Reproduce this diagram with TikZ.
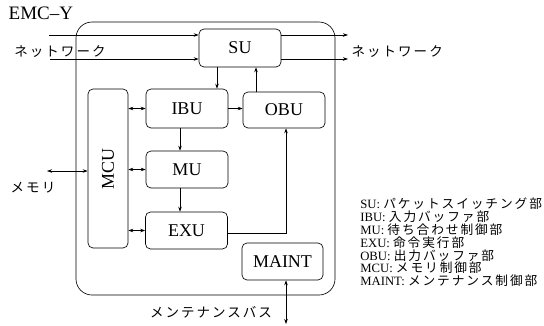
\documentclass[tikz,border=0pt]{standalone}
\usepackage{fontspec}
\setmainfont{Liberation Serif}
\newfontfamily\jp[LetterSpace=15]{Noto Sans CJK JP}
\usetikzlibrary{arrows.meta}

\tikzset{
  unit/.style={rectangle, draw, rounded corners=5pt, minimum width=82pt, minimum height=38pt, inner sep=0pt, font=\fontsize{18}{20}\selectfont},
  arrow/.style={-{Stealth[length=5pt, width=3.5pt]}},
  dblarrow/.style={{Stealth[length=5pt, width=3.5pt]}-{Stealth[length=5pt, width=3.5pt]}},
  jplabel/.style={font=\jp\fontsize{13.5}{15}\selectfont},
}

\begin{document}
\begin{tikzpicture}[x=1pt, y=-1pt, line width=0.65pt]
  \useasboundingbox (0,0) rectangle (544,325);

  % Rahmen EMC-Y
  \node[draw, rounded corners=16pt, minimum width=259pt, minimum height=273pt, inner sep=0pt] (emc) at (205.5,158.5) {};
  \node[anchor=west, font=\fontsize{19}{21}\selectfont] (title) at (5,13) {EMC--Y};

  % Einheiten
  \node[unit] (su)    at (240,48)    {SU};
  \node[unit, minimum height=39pt] (ibu) at (187,108.5) {IBU};
  \node[unit, minimum height=36pt] (obu) at (284,110)   {OBU};
  \node[unit, minimum height=37pt] (mu)  at (187,169.5) {MU};
  \node[unit, minimum height=37pt] (exu) at (186.5,230.5) {EXU};
  \node[unit, minimum height=37pt, minimum width=81pt] (maint) at (282.5,261.5) {MAINT};
  \node[unit, minimum width=40pt, minimum height=159pt] (mcu) at (108,168.5) {\rotatebox{90}{MCU}};

  % Endpunkte aussen
  \coordinate (netin1)  at (49,35);
  \coordinate (netin2)  at (50,59);
  \coordinate (netout1) at (348,35);
  \coordinate (netout2) at (348,59);
  \coordinate (mem)     at (47,171);
  \coordinate (bus)     at (286,324);

  % Netzwerk
  \draw[arrow] (netin1) -- (netin1 -| su.west);
  \draw[arrow] (netin2) -- (netin2 -| su.west);
  \draw[arrow] (su.east |- netout1) -- (netout1);
  \draw[arrow] (su.east |- netout2) -- (netout2);

  % Verbindungen
  \draw[arrow] ([xshift=-23pt]su.south) -- ([xshift=-23pt]su.south |- ibu.north);
  \draw[arrow] ([xshift=-28pt]obu.north) -- ([xshift=-28pt]obu.north |- su.south);
  \draw[arrow] (ibu.east) -- (ibu.east -| obu.west);
  \draw[arrow] ([xshift=-7pt]ibu.south) -- ([xshift=-7pt]ibu.south |- mu.north);
  \draw[arrow] ([xshift=-7pt]mu.south) -- ([xshift=-7pt]mu.south |- exu.north);
  \draw[arrow] ([yshift=-2.5pt]exu.east) -| ([xshift=2pt]obu.south);
  \draw[dblarrow] (mcu.east |- ibu.west) -- (ibu.west);
  \draw[dblarrow] (mcu.east |- mu.west)  -- (mu.west);
  \draw[dblarrow] (mcu.east |- exu.west) -- (exu.west);
  \draw[dblarrow] (mem) -- (mem -| mcu.west);
  \draw[dblarrow] ([xshift=3.5pt]maint.south) -- ([xshift=3.5pt]maint.south |- bus);

  % Beschriftungen
  \node[jplabel] (netinlabel) at (60,52) {ネットワーク};
  \node[jplabel, anchor=west] (netoutlabel) at (348,52) {ネットワーク};
  \node[jplabel] (memlabel) at (33,188) {メモリ};
  \node[jplabel] (buslabel) at (211,312) {メンテナンスバス};

  % Legende
  \node[anchor=north west, align=left, inner sep=0pt, font=\fontsize{12.7}{12.8}\selectfont] (legend) at (360,198) {%
    SU: {\jp パケットスイッチング部}\\
    IBU: {\jp 入力バッファ部}\\
    MU: {\jp 待ち合わせ制御部}\\
    EXU: {\jp 命令実行部}\\
    OBU: {\jp 出力バッファ部}\\
    MCU: {\jp メモリ制御部}\\
    MAINT: {\jp メンテナンス制御部}};
\end{tikzpicture}
\end{document}
